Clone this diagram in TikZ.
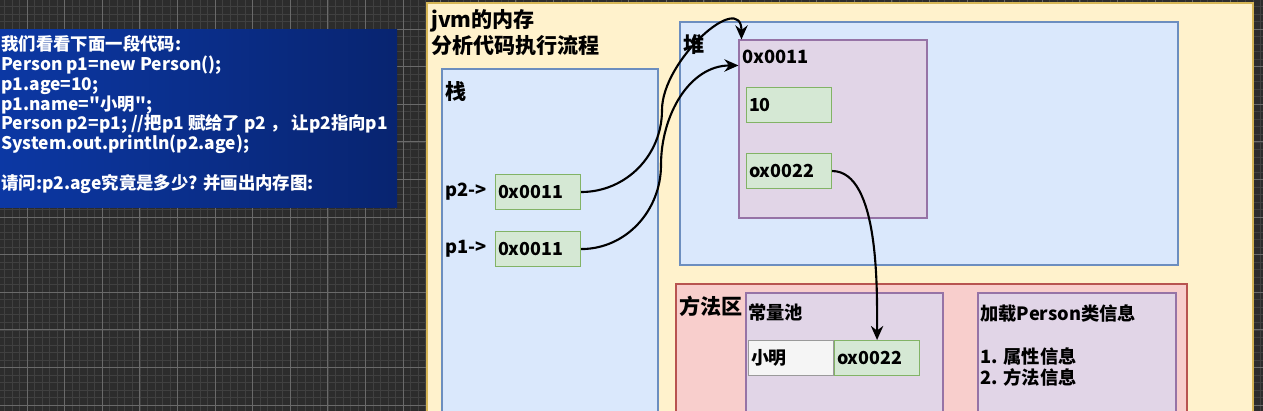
\documentclass[tikz,border=0pt]{standalone}
\usepackage{fontspec}
\setmainfont{Noto Sans CJK SC}[Ligatures=TeXOff]
\usetikzlibrary{arrows.meta, positioning, fit, calc}
\definecolor{canvasgray}{HTML}{2C2C2C}
\definecolor{gridminor}{HTML}{404040}
\definecolor{gridmajor}{HTML}{6A6A6A}
\definecolor{codeblueL}{HTML}{0C38A4}
\definecolor{codeblueR}{HTML}{082470}
\definecolor{jvmyellow}{HTML}{FFF2CC}
\definecolor{jvmyellowline}{HTML}{D6B656}
\definecolor{areablue}{HTML}{DAE8FC}
\definecolor{areablueline}{HTML}{6C8EBF}
\definecolor{objpurple}{HTML}{E1D5E7}
\definecolor{objpurpleline}{HTML}{9673A6}
\definecolor{valgreen}{HTML}{D5E8D4}
\definecolor{valgreenline}{HTML}{82B366}
\definecolor{methodred}{HTML}{F8CECC}
\definecolor{methodredline}{HTML}{B85450}
\definecolor{namewhite}{HTML}{F5F5F5}
\definecolor{namewhiteline}{HTML}{9A9A9A}

\begin{document}
\begin{tikzpicture}[
    x=0.02cm, y=-0.02cm,
    >={Stealth[length=8pt, width=7pt]},
    area/.style={draw=#1line, fill=#1, line width=0.6pt, inner sep=0pt},
    areatitle/.style={font=\fontsize{12}{14.7}\selectfont\bfseries, anchor=north west, inner sep=0pt, align=left},
    subtitle/.style={font=\fontsize{10.4}{12.2}\selectfont\bfseries, anchor=north west, inner sep=0pt, align=left},
    cell/.style={draw=#1line, fill=#1, line width=0.6pt, minimum width=1.7cm, minimum height=0.7cm,
      text width=1.6cm, inner xsep=0.05cm, align=left, anchor=north west, font=\fontsize{10.2}{12}\selectfont\bfseries},
    varname/.style={font=\fontsize{10.4}{12}\selectfont\bfseries, anchor=east, inner sep=0pt},
    pointer/.style={->, line width=1.2pt},
]
\useasboundingbox (0,0) rectangle (1263,411);

% Canvas grid
\fill[canvasgray] (0,0) rectangle (1263,411);
\foreach \i in {-5,...,165} {
    \draw[gridminor, line width=0.3pt] ({27+7.52*\i},0) -- ++(0,411);
}
\foreach \i in {-4,...,52} {
    \draw[gridminor, line width=0.3pt] (0,{29+7.52*\i}) -- ++(1263,0);
}
\foreach \i in {-1,...,33} {
    \draw[gridmajor, line width=0.5pt] ({27+37.6*\i},0) -- ++(0,411);
}
\foreach \i in {-1,...,10} {
    \draw[gridmajor, line width=0.5pt] (0,{29+37.6*\i}) -- ++(1263,0);
}

% Code panel
\node[fit={(0,30) (397,208)}, inner sep=0pt, left color=codeblueL, right color=codeblueR] (codebox) {};
\node[anchor=north west, inner sep=0pt, align=left, text=white,
      font=\fontsize{9.9}{11.3}\selectfont\bfseries] (code) at (1,35)
  {我们看看下面一段代码:\\
   Person p1=new Person();\\
   p1.age=10;\\
   p1.name="小明";\\
   Person p2=p1; //把p1 赋给了 p2 ，\ 让p2指向p1\\
   System.out.println(p2.age);\\[11.3pt]
   请问:p2.age究竟是多少? 并画出内存图:};

% JVM memory
\node[area=jvmyellow, fit={(427,3) (1253,440)}] (jvm) {};
\node[areatitle] (jvmtitle) at (431,9) {jvm的内存\\分析代码执行流程};

% Stack
\node[area=areablue, fit={(442,69) (658,440)}] (stack) {};
\node[areatitle] (stacktitle) at (445,81) {栈};
\node[cell=valgreen] (p2val) at (495,174) {0x0011};
\node[cell=valgreen, below=0.42cm of p2val.south west, anchor=north west] (p1val) {0x0011};
\node[varname, left=0.16cm of p2val] (p2name) {p2->};
\node[varname, left=0.16cm of p1val] (p1name) {p1->};

% Heap
\node[area=areablue, fit={(680,22) (1178,265)}] (heap) {};
\node[areatitle] (heaptitle) at (683,34) {堆};
\node[area=objpurple, fit={(739,40) (927,218)}] (obj) {};
\node[subtitle] (objaddr) at (742,50) {0x0011};
\node[cell=valgreen] (ageval) at (746,87) {10};
\node[cell=valgreen] (refval) at (746,153) {ox0022};

% Method area
\node[area=methodred, fit={(676,284) (1187,440)}] (method) {};
\node[areatitle] (methodtitle) at (679,296) {方法区};
\node[area=objpurple, fit={(746,293) (943,440)}] (pool) {};
\node[subtitle] (pooltitle) at (748,304) {常量池};
\node[cell=namewhite] (nameval) at (748,340) {小明};
\node[cell=valgreen, right=0pt of nameval.north east, anchor=north west] (poolval) {ox0022};
\node[area=objpurple, fit={(978,293) (1176,440)}] (classinfo) {};
\node[subtitle] (classtitle) at (980,304)
  {加载Person类信息\\[12.2pt]1. 属性信息\\2. 方法信息};

% References
\coordinate (bendA) at (662,110);
\coordinate (bendB) at (661,165);
\draw[pointer] (p2val.east) to[out=0, in=-90] (bendA)
  to[out=90, in=90, looseness=1.2] ($(obj.north west)+(3,0)$);
\draw[pointer] (p1val.east) to[out=0, in=-90] (bendB)
  to[out=90, in=180] ($(obj.north west)+(0,26)$);
\draw[pointer] (refval.east) to[out=0, in=90, looseness=0.7] (poolval.north);

\end{tikzpicture}
\end{document}
